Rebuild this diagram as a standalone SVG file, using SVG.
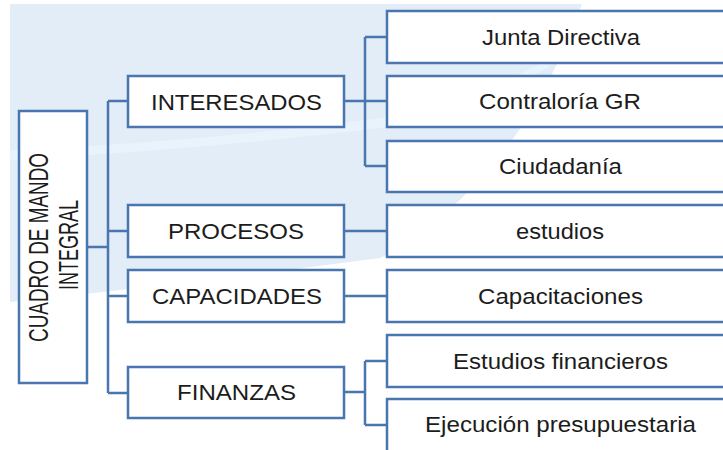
<svg xmlns="http://www.w3.org/2000/svg" width="723" height="450" viewBox="0 0 723 450">
<style>
.box{fill:#ffffff;stroke:#4a76b0;stroke-width:2.5}
.lbl{font-family:"Liberation Sans",Arial,sans-serif;font-size:22px;fill:#1c1c1c;text-anchor:middle}
.vl{font-family:"Liberation Sans",Arial,sans-serif;font-size:28px;fill:#1c1c1c;text-anchor:middle}
.con{fill:none;stroke:#4a76b0;stroke-width:2.5}
</style>
<rect x="0" y="0" width="723" height="450" fill="#ffffff"/>
<g id="background">
<path d="M10,4 L582,4 Q540,120 470,190 Q420,240 380,258 Q200,282 10,302 Z" fill="#e2edf7"/>
<path d="M10,160 Q200,150 380,128 Q480,110 560,60 L565,50 Q480,100 380,118 Q200,142 10,150 Z" fill="#eaf4fb" opacity="0.8"/>
</g>
<g id="connectors">
<path class="con" d="M87,247 H108 M108,101 V393 M108,101 H128 M108,231 H128 M108,296 H128 M108,393 H128"/>
<path class="con" d="M344,101 H365 M365,37 V166 M365,37 H387 M365,101 H387 M365,166 H387"/>
<path class="con" d="M344,231 H387 M344,296 H387"/>
<path class="con" d="M344,392 H365 M365,361 V425 M365,361 H387 M365,425 H387"/>
</g>
<g id="cuadro">
<rect class="box" x="19" y="111" width="68" height="272"/>
<text class="vl" transform="translate(48,247.5) rotate(-90)" textLength="189" lengthAdjust="spacingAndGlyphs">CUADRO DE MANDO</text>
<text class="vl" transform="translate(78,245) rotate(-90)" textLength="90" lengthAdjust="spacingAndGlyphs">INTEGRAL</text>
</g>
<g id="interesados">
<rect class="box" x="128" y="76" width="216" height="51"/>
<text class="lbl" x="236.5" y="109.5" textLength="171" lengthAdjust="spacingAndGlyphs">INTERESADOS</text>
</g>
<g id="procesos">
<rect class="box" x="128" y="205" width="216" height="52"/>
<text class="lbl" x="236" y="239" textLength="136" lengthAdjust="spacingAndGlyphs">PROCESOS</text>
</g>
<g id="capacidades">
<rect class="box" x="128" y="270" width="216" height="52"/>
<text class="lbl" x="237" y="304" textLength="170" lengthAdjust="spacingAndGlyphs">CAPACIDADES</text>
</g>
<g id="finanzas">
<rect class="box" x="128" y="367" width="216" height="51"/>
<text class="lbl" x="236.5" y="400" textLength="119" lengthAdjust="spacingAndGlyphs">FINANZAS</text>
</g>
<g id="junta">
<rect class="box" x="387" y="11" width="346" height="52"/>
<text class="lbl" x="561" y="44.5" textLength="158" lengthAdjust="spacingAndGlyphs">Junta Directiva</text>
</g>
<g id="contraloria">
<rect class="box" x="387" y="76" width="346" height="51"/>
<text class="lbl" x="560" y="109" textLength="162" lengthAdjust="spacingAndGlyphs">Contraloría GR</text>
</g>
<g id="ciudadania">
<rect class="box" x="387" y="141" width="346" height="51"/>
<text class="lbl" x="560.5" y="174" textLength="123" lengthAdjust="spacingAndGlyphs">Ciudadanía</text>
</g>
<g id="estudios">
<rect class="box" x="387" y="205" width="346" height="52"/>
<text class="lbl" x="560" y="238.5" textLength="88" lengthAdjust="spacingAndGlyphs">estudios</text>
</g>
<g id="capacitaciones">
<rect class="box" x="387" y="270" width="346" height="52"/>
<text class="lbl" x="560.5" y="303.5" textLength="165" lengthAdjust="spacingAndGlyphs">Capacitaciones</text>
</g>
<g id="estudios-financieros">
<rect class="box" x="387" y="335" width="346" height="52"/>
<text class="lbl" x="560.5" y="368.5" textLength="215" lengthAdjust="spacingAndGlyphs">Estudios financieros</text>
</g>
<g id="ejecucion">
<rect class="box" x="387" y="399" width="346" height="53"/>
<text class="lbl" x="560.5" y="432" textLength="271" lengthAdjust="spacingAndGlyphs">Ejecución presupuestaria</text>
</g>
</svg>
